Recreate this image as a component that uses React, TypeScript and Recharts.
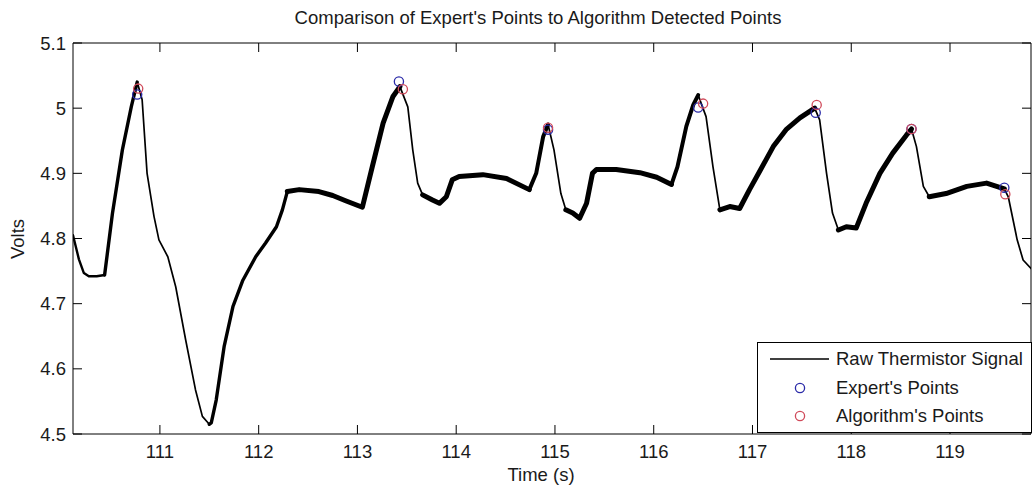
import React from "react";
import { ComposedChart, Line, Scatter, XAxis, YAxis, ReferenceLine } from "recharts";

// Raw thermistor trace, seconds / volts
const signalTime = [
  110.12, 110.18, 110.23, 110.28, 110.36, 110.44, 110.52, 110.62, 110.71, 110.77,
  110.82, 110.87, 110.94, 110.99, 111.08, 111.16, 111.26, 111.36, 111.43, 111.5,
  111.52, 111.57, 111.65, 111.74, 111.84, 111.97, 112.07, 112.18, 112.24, 112.29,
  112.41, 112.61, 112.75, 112.88, 113.05, 113.15, 113.26, 113.36, 113.43, 113.51,
  113.56, 113.61, 113.66, 113.76, 113.83, 113.9, 113.96, 114.03, 114.27, 114.51,
  114.74, 114.81, 114.88, 114.93, 114.99, 115.06, 115.11, 115.18, 115.25, 115.32,
  115.38, 115.42, 115.62, 115.86, 116.03, 116.18, 116.24, 116.33, 116.4, 116.45,
  116.53, 116.6, 116.67, 116.77, 116.87, 116.97, 117.08, 117.21, 117.34, 117.48,
  117.63, 117.68, 117.75, 117.81, 117.87, 117.95, 118.05, 118.15, 118.29, 118.42,
  118.56, 118.61, 118.66, 118.73, 118.79, 118.96, 119.17, 119.37, 119.55, 119.59,
  119.68, 119.74, 119.82,
];
const signalVolts = [
  4.805, 4.768, 4.747, 4.742, 4.742, 4.744, 4.839, 4.936, 5.002, 5.04,
  5.013, 4.9, 4.834, 4.798, 4.772, 4.726, 4.645, 4.568, 4.527, 4.515,
  4.517, 4.552, 4.634, 4.696, 4.736, 4.772, 4.793, 4.818, 4.844, 4.872,
  4.875, 4.872, 4.866, 4.858, 4.848, 4.91, 4.977, 5.018, 5.033, 5.002,
  4.936, 4.885, 4.867, 4.859, 4.854, 4.864, 4.89, 4.895, 4.898, 4.892,
  4.875, 4.9, 4.956, 4.975, 4.936, 4.869, 4.844, 4.839, 4.831, 4.854,
  4.9, 4.906, 4.906, 4.901, 4.894, 4.883, 4.91, 4.972, 5.005, 5.02,
  4.987, 4.91, 4.844, 4.849, 4.846, 4.875, 4.905, 4.941, 4.967, 4.985,
  5.0, 4.982, 4.9, 4.839, 4.813, 4.818, 4.816, 4.854, 4.9, 4.931,
  4.959, 4.968, 4.941, 4.88, 4.864, 4.869, 4.88, 4.885, 4.876, 4.864,
  4.798, 4.767, 4.754,
];

// Peaks marked by hand and by the detector
const expertTime = [110.77, 113.42, 114.93, 116.45, 117.64, 118.61, 119.55];
const expertVolts = [5.021, 5.041, 4.967, 5.001, 4.993, 4.968, 4.878];
const algoTime = [110.78, 113.46, 114.93, 116.5, 117.65, 118.61, 119.56];
const algoVolts = [5.03, 5.029, 4.97, 5.007, 5.005, 4.968, 4.868];

const timeTicks = [111, 112, 113, 114, 115, 116, 117, 118, 119];
const voltTicks = [4.5, 4.6, 4.7, 4.8, 4.9, 5.0, 5.1];

// The trace is noisy: slow stretches read as a thick band, fast drops as a thin line.
// Each band runs from one break to the next.
const bandBreaks = [
  110.12, 110.44, 110.77, 111.5, 112.29, 113.43, 113.66, 114.74, 114.93, 115.11,
  116.18, 116.45, 116.67, 117.63, 117.87, 118.61, 118.79, 119.55, 119.82,
];
const bandWidths = [2.4, 3.4, 1.7, 3.4, 5, 1.7, 5, 4, 1.7, 5, 4, 1.7, 5, 1.7, 5, 1.7, 5, 1.7];

const PLOT = { left: 73, top: 43, right: 1031, bottom: 434 };
const TICK_LEN = 9;
const FONT = "'Liberation Sans', Arial, sans-serif";
const INK = "#1a1a1a";

const signal = signalTime.map((t, i) => ({ t, v: signalVolts[i] }));
const bands = bandWidths.map((w, i) => ({
  width: w,
  data: signal.filter((p) => p.t >= bandBreaks[i] && p.t <= bandBreaks[i + 1]),
}));
const expertPts = expertTime.map((t, i) => ({ t, v: expertVolts[i] }));
const algoPts = algoTime.map((t, i) => ({ t, v: algoVolts[i] }));

const fmtVolt = (v: number) => String(Number(v.toFixed(1)));

// bottom tick plus its mirror on the top edge, both pointing inward
const TimeTick = ({ x, payload }: any) => (
  <g>
    <line x1={x} x2={x} y1={PLOT.bottom} y2={PLOT.bottom - TICK_LEN} stroke="#000" />
    <line x1={x} x2={x} y1={PLOT.top} y2={PLOT.top + TICK_LEN} stroke="#000" />
    <text x={x} y={PLOT.bottom + 24} textAnchor="middle" fontSize={18.5} fontFamily={FONT} fill={INK}>
      {payload.value}
    </text>
  </g>
);

// left tick plus its mirror on the right edge
const VoltTick = ({ y, payload }: any) => (
  <g>
    <line x1={PLOT.left} x2={PLOT.left + TICK_LEN} y1={y} y2={y} stroke="#000" />
    <line x1={PLOT.right} x2={PLOT.right - TICK_LEN} y1={y} y2={y} stroke="#000" />
    <text x={PLOT.left - 7} y={y + 6.5} textAnchor="end" fontSize={18.5} fontFamily={FONT} fill={INK}>
      {fmtVolt(payload.value)}
    </text>
  </g>
);

const ring = (color: string) => (props: any) =>
  <circle cx={props.cx} cy={props.cy} r={4.6} fill="none" stroke={color} strokeWidth={1.3} />;

const legendRows = [
  { label: "Raw Thermistor Signal", kind: "line", color: "#000" },
  { label: "Expert's Points", kind: "ring", color: "#2a2aa8" },
  { label: "Algorithm's Points", kind: "ring", color: "#d04a5a" },
];

export default function App() {
  return (
    <div style={{ position: "absolute", left: 0, top: 0, width: 1032, height: 487, background: "#fff", fontFamily: FONT, color: INK }}>
      <div style={{ position: "absolute", left: 0, width: 1076, top: 7, textAlign: "center", fontSize: 18.5 }}>
        Comparison of Expert's Points to Algorithm Detected Points
      </div>
      <div style={{ position: "absolute", left: 0, width: 1082, top: 464, textAlign: "center", fontSize: 18.5, lineHeight: "21px" }}>
        Time (s)
      </div>
      <div
        style={{
          position: "absolute", left: 18, top: 239, fontSize: 18.5,
          transform: "translate(-50%, -50%) rotate(-90deg)", whiteSpace: "nowrap",
        }}
      >
        Volts
      </div>

      <ComposedChart width={1032} height={487} margin={{ top: 43, right: 1, bottom: 0, left: 0 }}>
        <XAxis
          dataKey="t"
          type="number"
          domain={[110.12, 119.82]}
          ticks={timeTicks}
          allowDataOverflow
          height={53}
          tickLine={false}
          axisLine={{ stroke: "#000" }}
          tick={(p: any) => <TimeTick {...p} />}
        />
        <YAxis
          dataKey="v"
          type="number"
          domain={[4.5, 5.1]}
          ticks={voltTicks}
          allowDataOverflow
          width={73}
          tickLine={false}
          axisLine={{ stroke: "#000" }}
          tick={(p: any) => <VoltTick {...p} />}
        />
        <ReferenceLine y={5.1} stroke="#000" ifOverflow="visible" />
        <ReferenceLine x={119.82} stroke="#000" ifOverflow="visible" />

        {bands.map((b, i) => (
          <Line
            key={i}
            data={b.data}
            dataKey="v"
            type="linear"
            stroke="#000"
            strokeWidth={b.width}
            strokeLinejoin="round"
            strokeLinecap="round"
            dot={false}
            activeDot={false}
            isAnimationActive={false}
          />
        ))}
        <Scatter data={expertPts} dataKey="v" shape={ring("#2a2aa8")} isAnimationActive={false} />
        <Scatter data={algoPts} dataKey="v" shape={ring("#d04a5a")} isAnimationActive={false} />
      </ComposedChart>

      {/* legend box in the lower right corner of the axes */}
      <div
        style={{
          position: "absolute", left: 757, top: 342, width: 273, height: 89,
          border: "1px solid #000", background: "#fff", fontSize: 18.5,
        }}
      >
        {legendRows.map((r, i) => (
          <div key={r.label} style={{ position: "absolute", left: 0, top: 4 + i * 28.5, height: 24, display: "flex", alignItems: "center" }}>
            <svg width={76} height={24} style={{ display: "block" }}>
              {r.kind === "line" ? (
                <line x1={12} x2={71} y1={12} y2={12} stroke={r.color} strokeWidth={1.3} />
              ) : (
                <circle cx={42} cy={12} r={4.6} fill="none" stroke={r.color} strokeWidth={1.3} />
              )}
            </svg>
            <span style={{ marginLeft: 2, whiteSpace: "nowrap" }}>{r.label}</span>
          </div>
        ))}
      </div>
    </div>
  );
}
